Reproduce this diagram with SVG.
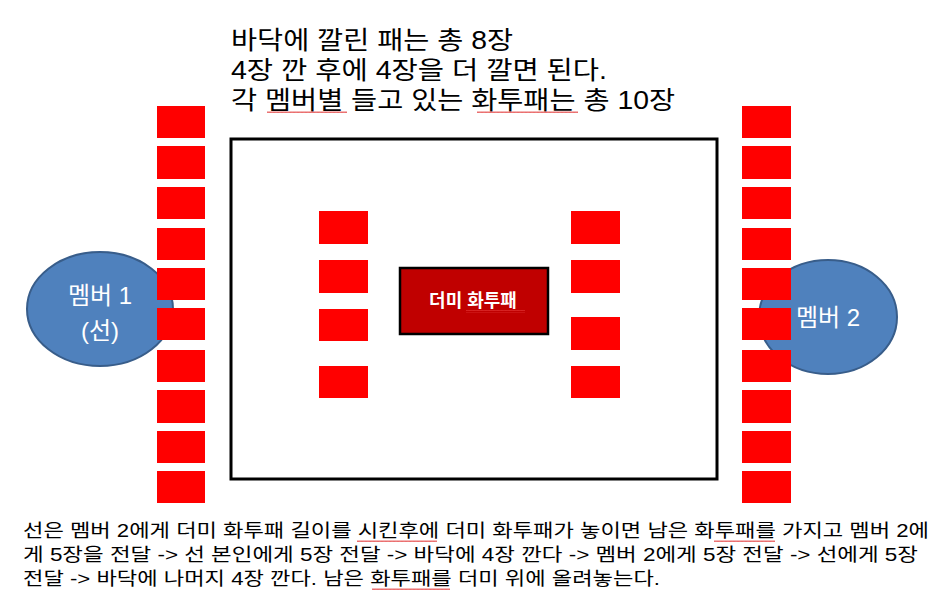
<svg xmlns="http://www.w3.org/2000/svg" width="938" height="604" viewBox="0 0 938 604">
<defs>
<style>
.t{font-family:"Liberation Sans","Noto Sans CJK KR",sans-serif;fill:#000}
.tile{fill:#FF0000}
.member{fill:#4F81BD;stroke:#385D8A;stroke-width:2}
.mtext{font-family:"Liberation Sans","Noto Sans CJK KR",sans-serif;fill:#fff;font-size:24px;text-anchor:middle}
</style>
<pattern id="wave" width="4" height="3" patternUnits="userSpaceOnUse"><path d="M0,2 L1,0.5 L2,2 L3,0.5 L4,2" fill="none" stroke="#E03030" stroke-width="0.8"/></pattern>
</defs>
<rect width="938" height="604" fill="#fff"/>

<g id="title">
<text class="t" x="231" y="49" font-size="25" textLength="282" lengthAdjust="spacingAndGlyphs">바닥에 깔린 패는 총 8장</text>
<text class="t" x="231" y="79" font-size="25" textLength="376" lengthAdjust="spacingAndGlyphs">4장 깐 후에 4장을 더 깔면 된다.</text>
<text class="t" x="231" y="109" font-size="25" textLength="444" lengthAdjust="spacingAndGlyphs">각 멤버별 들고 있는 화투패는 총 10장</text>
<rect x="267" y="111" width="80" height="3" fill="url(#wave)"/>
<rect x="477" y="111" width="101" height="3" fill="url(#wave)"/>
</g>

<g id="member1">
<ellipse class="member" cx="100" cy="309" rx="73" ry="57"/>
<text class="mtext" x="100" y="304">멤버 1</text>
<text class="mtext" x="100" y="339">(선)</text>
</g>
<g id="member2">
<ellipse class="member" cx="828" cy="317" rx="69" ry="57"/>
<text class="mtext" x="828" y="326">멤버 2</text>
</g>

<g id="table">
<rect x="231" y="139" width="486" height="340" fill="none" stroke="#000" stroke-width="3"/>
</g>

<g id="hand1">
<rect class="tile" x="157" y="106" width="48" height="32"/>
<rect class="tile" x="157" y="146" width="48" height="33"/>
<rect class="tile" x="157" y="187" width="48" height="32"/>
<rect class="tile" x="157" y="228" width="48" height="32"/>
<rect class="tile" x="157" y="268" width="48" height="32"/>
<rect class="tile" x="157" y="308" width="48" height="32"/>
<rect class="tile" x="157" y="350" width="48" height="32"/>
<rect class="tile" x="157" y="390" width="48" height="33"/>
<rect class="tile" x="157" y="431" width="48" height="32"/>
<rect class="tile" x="157" y="471" width="48" height="32"/>
</g>
<g id="hand2">
<rect class="tile" x="742" y="106" width="49" height="32"/>
<rect class="tile" x="742" y="146" width="49" height="33"/>
<rect class="tile" x="742" y="187" width="49" height="32"/>
<rect class="tile" x="742" y="228" width="49" height="32"/>
<rect class="tile" x="742" y="268" width="49" height="32"/>
<rect class="tile" x="742" y="308" width="49" height="32"/>
<rect class="tile" x="742" y="350" width="49" height="32"/>
<rect class="tile" x="742" y="390" width="49" height="33"/>
<rect class="tile" x="742" y="431" width="49" height="32"/>
<rect class="tile" x="742" y="471" width="49" height="32"/>
</g>
<g id="floor-left">
<rect class="tile" x="319" y="211" width="49" height="33"/>
<rect class="tile" x="319" y="260" width="49" height="33"/>
<rect class="tile" x="319" y="309" width="49" height="32"/>
<rect class="tile" x="319" y="366" width="49" height="32"/>
</g>
<g id="floor-right">
<rect class="tile" x="571" y="211" width="49" height="33"/>
<rect class="tile" x="571" y="260" width="49" height="33"/>
<rect class="tile" x="571" y="317" width="49" height="33"/>
<rect class="tile" x="571" y="366" width="49" height="32"/>
</g>

<g id="dummy">
<rect x="400" y="268" width="148" height="66" fill="#C00000" stroke="#000" stroke-width="2.5"/>
<text x="473" y="307" font-family="'Liberation Sans','Noto Sans CJK KR',sans-serif" font-size="18" font-weight="bold" fill="#fff" text-anchor="middle">더미 화투패</text>
<rect x="466" y="310" width="59" height="3" fill="url(#wave)"/>
</g>

<g id="note">
<text class="t" x="23" y="537" font-size="18.5" textLength="906" lengthAdjust="spacingAndGlyphs">선은 멤버 2에게 더미 화투패 길이를 시킨후에 더미 화투패가 놓이면 남은 화투패를 가지고 멤버 2에</text>
<text class="t" x="23" y="561" font-size="18.5" textLength="895" lengthAdjust="spacingAndGlyphs">게 5장을 전달 -&gt; 선 본인에게 5장 전달 -&gt; 바닥에 4장 깐다 -&gt; 멤버 2에게 5장 전달 -&gt; 선에게 5장</text>
<text class="t" x="23" y="585" font-size="18.5" textLength="637" lengthAdjust="spacingAndGlyphs">전달 -&gt; 바닥에 나머지 4장 깐다. 남은 화투패를 더미 위에 올려놓는다.</text>
<rect x="357" y="540" width="80" height="3" fill="url(#wave)"/>
<rect x="714" y="540" width="61" height="3" fill="url(#wave)"/>
<rect x="372" y="588" width="78" height="3" fill="url(#wave)"/>
</g>
</svg>
